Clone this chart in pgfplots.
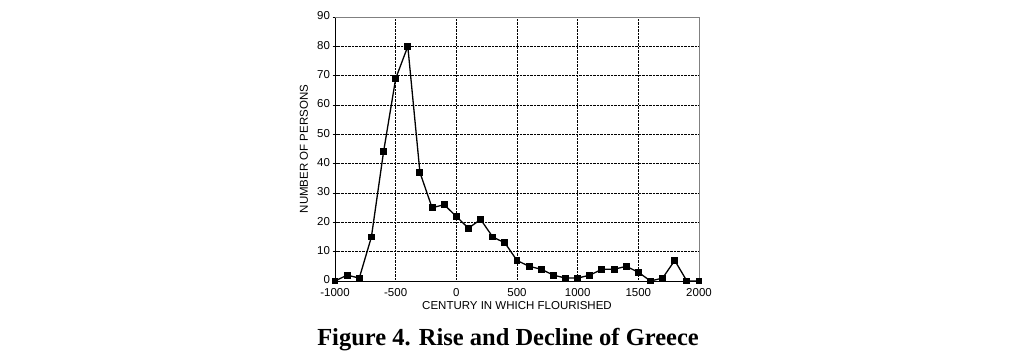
\documentclass[border=0pt]{standalone}
\usepackage{pgfplots}
\pgfplotsset{compat=1.18}
\usepackage{fontspec}
\setmainfont{Liberation Sans}
\newfontfamily\timesfont{Liberation Serif}
\pgfplotstableread{
x y
-1000 0
-900 2
-800 1
-700 15
-600 44
-500 69
-400 80
-300 37
-200 25
-100 26
0 22
100 18
200 21
300 15
400 13
500 7
600 5
700 4
800 2
900 1
1000 1
1100 2
1200 4
1300 4
1400 5
1500 3
1600 0
1700 1
1800 7
1900 0
2000 0
}\greece
\begin{document}
\begin{tikzpicture}[x=1pt,y=1pt]
\useasboundingbox (0,0) rectangle (1024,362);
\begin{axis}[
  at={(335pt,81pt)}, anchor=south west,
  scale only axis, width=364pt, height=264pt,
  xmin=-1000, xmax=2000, ymin=0, ymax=90,
  xtick={-1000,-500,0,500,1000,1500,2000},
  ytick={0,10,...,90},
  /pgf/number format/assume math mode=true,
  /pgf/number format/set thousands separator={},
  tick label style={font=\fontsize{11.5}{12}\selectfont},
  xticklabel style={yshift=-1.5pt},
  yticklabel style={xshift=1pt, yshift=1pt},
  grid=major,
  major grid style={black, densely dotted, line width=0.7pt},
  axis x line*=bottom, axis y line*=left,
  axis line style={black, line width=0.9pt, -},
  ytick style={black, line width=0.7pt},
  tick align=center, major tick length=5pt,
  xtick style={draw=none},
  xlabel={CENTURY IN WHICH FLOURISHED},
  ylabel={NUMBER OF PERSONS},
  label style={font=\fontsize{11.5}{12}\selectfont},
  xlabel style={at={(axis description cs:0.5,0)}, anchor=base, yshift=-28pt},
  ylabel style={at={(axis description cs:0,0.5)}, anchor=center, yshift=31pt},
  clip=false,
]
\draw[gray, line width=0.9pt] (axis cs:-1000,90) -- (axis cs:2000,90) -- (axis cs:2000,0);
\addplot[black, line width=1.3pt, mark=square*, mark size=2.8pt] table[x=x,y=y] {\greece};
\end{axis}
\node[anchor=base, font=\timesfont\bfseries\fontsize{24.5}{28}\selectfont] at (508,17) {Figure 4. Rise and Decline of Greece};
\end{tikzpicture}
\end{document}
